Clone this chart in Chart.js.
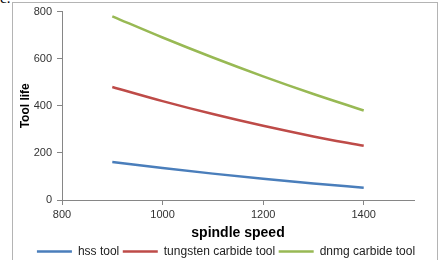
<!DOCTYPE html>
<html>
<head>
<meta charset="utf-8">
<script src="https://cdn.jsdelivr.net/npm/chart.js@4"></script>
<style>
  body { margin: 0; background: #fff; overflow: hidden; }
  #wrap { position: relative; width: 446px; height: 260px; }
  #frame {
    position: absolute; left: 12px; top: 2px; width: 426px; height: 280px;
    border: 1px solid #b4b4b4; box-sizing: border-box;
  }
  #cut {
    position: absolute; left: 0; top: -10px;
    font: 15px "Liberation Serif", serif; color: #000;
  }
  canvas { position: absolute; left: 0; top: 0; }
</style>
</head>
<body>
<div id="wrap">
  <div id="frame"></div>
  <span id="cut">c.</span>
  <canvas id="chart" width="446" height="260"></canvas>
</div>
<script>
// spindle speed on the x axis, tool life for each tool
const speeds = [900, 1000, 1100, 1200, 1300, 1400];
const hssLife = [161, 136, 112, 90, 70, 52];
const tungstenLife = [480, 420, 365, 315, 270, 230];
const dnmgLife = [780, 690, 605, 525, 450, 380];

const seriesNames = ["hss tool", "tungsten carbide tool", "dnmg carbide tool"];
const xTicks = [800, 1000, 1200, 1400];
const yTicks = [0, 200, 400, 600, 800];

const AXIS_GREY = "#868686";
const LABEL_FONT = "'Liberation Sans', Arial, sans-serif";

function toPoints(values) {
  return values.map((v, i) => ({ x: speeds[i], y: v }));
}

function makeSeries(name, values, color) {
  return {
    label: name,
    data: toPoints(values),
    borderColor: color,
    backgroundColor: color,
    borderWidth: 2.5,
    pointRadius: 0,
    cubicInterpolationMode: "monotone",
    fill: false,
  };
}

// plain numbers, no thousands separator
function plainLabel(value) {
  return String(value);
}

const ctx = document.getElementById("chart").getContext("2d");

new Chart(ctx, {
  type: "line",
  data: {
    datasets: [
      makeSeries(seriesNames[0], hssLife, "#4a7ebb"),
      makeSeries(seriesNames[1], tungstenLife, "#be4b48"),
      makeSeries(seriesNames[2], dnmgLife, "#98b954"),
    ],
  },
  options: {
    responsive: false,
    animation: false,
    layout: { padding: { left: 14, right: 8, top: 3, bottom: 0 } },
    plugins: {
      tooltip: { enabled: false },
      legend: {
        position: "bottom",
        maxHeight: 18,
        labels: {
          usePointStyle: true,
          pointStyle: "line",
          pointStyleWidth: 35,
          padding: 3.5,
          color: "#222",
          font: { family: LABEL_FONT, size: 12 },
        },
      },
    },
    scales: {
      x: {
        type: "linear",
        min: 800,
        max: 1500,
        afterBuildTicks: (scale) => {
          scale.ticks = xTicks.map((v) => ({ value: v }));
        },
        afterFit: (scale) => { scale.height = 42; },
        grid: { display: true, drawOnChartArea: false, drawTicks: true, tickLength: 5, color: AXIS_GREY },
        border: { color: AXIS_GREY },
        ticks: { padding: 3, color: "#333", callback: plainLabel, font: { family: LABEL_FONT, size: 11 } },
        title: {
          display: true,
          text: "spindle speed",
          color: "#000",
          padding: 0,
          font: { family: LABEL_FONT, size: 14, weight: "bold" },
        },
      },
      y: {
        min: 0,
        max: 800,
        afterBuildTicks: (scale) => {
          scale.ticks = yTicks.map((v) => ({ value: v }));
        },
        afterFit: (scale) => { scale.width = 48; },
        grid: { display: true, drawOnChartArea: false, drawTicks: true, tickLength: 5, color: AXIS_GREY },
        border: { color: AXIS_GREY },
        ticks: { padding: 5, color: "#333", callback: plainLabel, font: { family: LABEL_FONT, size: 11 } },
        title: {
          display: true,
          text: "Tool life",
          color: "#000",
          padding: { top: 4, bottom: 0 },
          font: { family: LABEL_FONT, size: 12, weight: "bold" },
        },
      },
      // empty right-hand axis, only keeps the plot clear of the right edge
      spacer: {
        position: "right",
        display: true,
        afterFit: (scale) => { scale.width = 24; },
        grid: { display: false },
        border: { display: false },
        ticks: { display: false },
      },
    },
  },
});
</script>
</body>
</html>
